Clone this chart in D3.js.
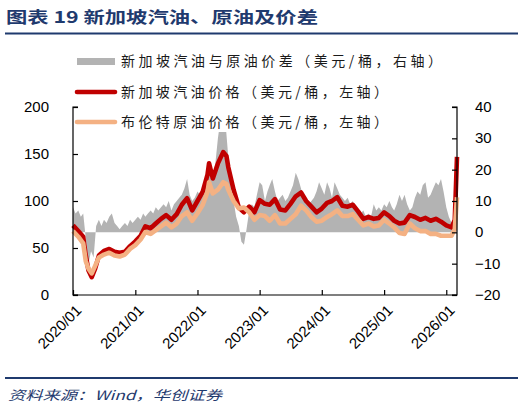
<!DOCTYPE html>
<html><head><meta charset="utf-8">
<script src="https://cdn.jsdelivr.net/npm/d3@7/dist/d3.min.js"></script>
<style>body{margin:0;background:#fff} svg{display:block}</style>
</head><body><svg id="c" width="524" height="413"></svg>
<script>
const titleText = "图表 19 新加坡汽油、原油及价差";
const sourceText = "资料来源：Wind，华创证券";
const legendLabels = ["新加坡汽油与原油价差（美元/桶，右轴）", "新加坡汽油价格（美元/桶，左轴）", "布伦特原油价格（美元/桶，左轴）"];
const leftTicks = [0, 50, 100, 150, 200];
const rightTicks = [-20, -10, 0, 10, 20, 30, 40];
const xTickDates = ["2020-01-01","2021-01-01","2022-01-01","2023-01-01","2024-01-01","2025-01-01","2026-01-01"];
const xTickLabels = ["2020/01","2021/01","2022/01","2023/01","2024/01","2025/01","2026/01"];

const lineDates = ["2020-01-01","2020-02-01","2020-03-01","2020-03-16","2020-04-01","2020-04-20","2020-05-10","2020-06-01","2020-07-01","2020-08-01","2020-09-01","2020-10-01","2020-11-01","2020-12-01",
"2021-01-01","2021-02-01","2021-03-01","2021-04-01","2021-05-01","2021-06-01","2021-07-01","2021-08-01","2021-09-01","2021-10-01","2021-11-01","2021-12-01",
"2022-01-01","2022-02-01","2022-03-01","2022-03-10","2022-04-01","2022-05-01","2022-06-01","2022-06-20","2022-07-01","2022-08-01","2022-09-01","2022-10-01","2022-11-01","2022-12-01",
"2023-01-01","2023-02-01","2023-03-01","2023-04-01","2023-05-01","2023-06-01","2023-07-01","2023-08-01","2023-09-01","2023-10-01","2023-11-01","2023-12-01",
"2024-01-01","2024-02-01","2024-03-01","2024-04-01","2024-05-01","2024-06-01","2024-07-01","2024-08-01","2024-09-01","2024-10-01","2024-11-01","2024-12-01",
"2025-01-01","2025-02-01","2025-03-01","2025-04-01","2025-05-01","2025-06-01","2025-07-01","2025-08-01","2025-09-01","2025-10-01","2025-11-01","2025-12-01",
"2026-01-01","2026-02-01","2026-02-20","2026-03-05"];
const gasoline = [74,68,62,42,26,19,28,42,47,49,46,45,46,52,
57,63,73,71,76,81,85,80,86,96,103,90,
100,110,128,140,124,140,152,148,136,112,93,88,94,88,
101,97,96,102,91,90,97,105,109,100,94,88,
92,98,100,104,95,94,96,89,81,83,81,82,
88,84,79,76,77,85,83,80,82,79,81,78,
74,72,80,147];
const brent = [68,62,55,36,28,23,31,40,43,45,42,41,43,49,
53,59,67,65,69,73,77,72,76,84,88,79,
87,96,110,120,108,112,120,118,112,100,92,93,88,80,
85,84,79,85,76,76,81,86,95,90,83,78,
79,83,86,90,84,84,86,80,74,76,73,74,
80,76,72,66,65,76,71,68,68,65,65,63,
63,63,70,104];

const spreadDates = ["2020-01-01","2020-01-16","2020-02-01","2020-02-16","2020-03-01","2020-03-16","2020-04-01","2020-04-16","2020-05-01","2020-05-16","2020-06-01","2020-06-16","2020-07-01","2020-07-16","2020-08-01","2020-08-16","2020-09-01","2020-09-16","2020-10-01","2020-10-16","2020-11-01","2020-11-16","2020-12-01","2020-12-16",
"2021-01-01","2021-01-16","2021-02-01","2021-02-16","2021-03-01","2021-03-16","2021-04-01","2021-04-16","2021-05-01","2021-05-16","2021-06-01","2021-06-16","2021-07-01","2021-07-16","2021-08-01","2021-08-16","2021-09-01","2021-09-16","2021-10-01","2021-10-16","2021-11-01","2021-11-16","2021-12-01","2021-12-16",
"2022-01-01","2022-01-16","2022-02-01","2022-02-16","2022-03-01","2022-03-16","2022-04-01","2022-04-16","2022-05-01","2022-05-16","2022-06-01","2022-06-16","2022-07-01","2022-07-16","2022-08-01","2022-08-16","2022-09-01","2022-09-16","2022-10-01","2022-10-16","2022-11-01","2022-11-16","2022-12-01","2022-12-16",
"2023-01-01","2023-01-16","2023-02-01","2023-02-16","2023-03-01","2023-03-16","2023-04-01","2023-04-16","2023-05-01","2023-05-16","2023-06-01","2023-06-16","2023-07-01","2023-07-16","2023-08-01","2023-08-16","2023-09-01","2023-09-16","2023-10-01","2023-10-16","2023-11-01","2023-11-16","2023-12-01","2023-12-16",
"2024-01-01","2024-01-16","2024-02-01","2024-02-16","2024-03-01","2024-03-16","2024-04-01","2024-04-16","2024-05-01","2024-05-16","2024-06-01","2024-06-16","2024-07-01","2024-07-16","2024-08-01","2024-08-16","2024-09-01","2024-09-16","2024-10-01","2024-10-16","2024-11-01","2024-11-16","2024-12-01","2024-12-16",
"2025-01-01","2025-01-16","2025-02-01","2025-02-16","2025-03-01","2025-03-16","2025-04-01","2025-04-16","2025-05-01","2025-05-16","2025-06-01","2025-06-16","2025-07-01","2025-07-16","2025-08-01","2025-08-16","2025-09-01","2025-09-16","2025-10-01","2025-10-16","2025-11-01","2025-11-16","2025-12-01","2025-12-16",
"2026-01-01","2026-01-16","2026-02-01","2026-02-16","2026-02-25"];
const spreadValues = [8,6,7,5,6,-2,-10,-6,-8,2,4,2,4,3,5,6,3,2,1,2,3,2,4,3,
4,5,4,6,5,6,7,6,8,7,8,9,8,10,7,9,10,11,12,14,17,12,10,11,
13,12,14,16,21,19,18,22,30,36,32,34,24,14,10,5,2,-3,-4,1,7,9,8,12,
16,15,10,13,15,17,13,10,11,12,10,11,13,15,19,17,14,10,11,9,10,11,13,16,
14,12,16,14,11,16,14,12,11,10,11,9,10,8,7,6,7,5,6,5,9,7,8,7,
9,8,10,8,7,9,12,10,12,9,7,8,11,13,12,15,16,11,12,14,16,15,17,13,
8,5,3,4,8];

const navy = "#1F3A6E";
const cjk = "'Noto Sans CJK SC', 'Noto Sans', sans-serif";
const latin = "'Liberation Sans', Arial, sans-serif";
const svg = d3.select("#c");
const parse = d3.timeParse("%Y-%m-%d");

const L = 73, R = 457, T = 107, B = 295;
const x = d3.scaleTime().domain([parse("2020-01-01"), parse("2026-03-05")]).range([L, R]);
const yL = d3.scaleLinear().domain([0, 200]).range([B, T]);
const yR = d3.scaleLinear().domain([-20, 40]).range([B, T]);

// title
svg.append("text").attr("x", 6).attr("y", 23).attr("font-family", cjk).attr("font-weight", "bold")
  .attr("font-size", 16).attr("fill", navy).attr("textLength", 312).attr("lengthAdjust", "spacingAndGlyphs").text(titleText);
svg.append("line").attr("x1", 5).attr("x2", 518).attr("y1", 33.5).attr("y2", 33.5).attr("stroke", navy).attr("stroke-width", 2);

// footer
svg.append("line").attr("x1", 5).attr("x2", 518).attr("y1", 378).attr("y2", 378).attr("stroke", navy).attr("stroke-width", 2);
svg.append("text").attr("x", 8).attr("y", 400).attr("font-family", cjk).attr("font-style", "italic")
  .attr("font-size", 13).attr("fill", navy).attr("textLength", 214).attr("lengthAdjust", "spacingAndGlyphs").text(sourceText);

// spread area
const spreadData = spreadDates.map((d, i) => ({ d: parse(d), v: spreadValues[i] }));
svg.append("path").datum(spreadData).attr("fill", "#B3B3B3")
  .attr("d", d3.area().x(p => x(p.d)).y0(yR(0)).y1(p => yR(p.v)));

// legend background (covers top of the grey spike)
svg.append("rect").attr("x", 76).attr("y", 48).attr("width", 376).attr("height", 84).attr("fill", "#fff");

const lineData = lineDates.map((d, i) => ({ d: parse(d), g: gasoline[i], b: brent[i] }));
svg.append("path").datum(lineData).attr("fill", "none").attr("stroke", "#C00000").attr("stroke-width", 4.6)
  .attr("stroke-linejoin", "round").attr("d", d3.line().x(p => x(p.d)).y(p => yL(p.g)));
svg.append("path").datum(lineData).attr("fill", "none").attr("stroke", "#F4B183").attr("stroke-width", 4.6)
  .attr("stroke-linejoin", "round").attr("d", d3.line().x(p => x(p.d)).y(p => yL(p.b)));

// axes
const gL = svg.append("g").attr("transform", `translate(${L},0)`)
  .call(d3.axisRight(yL).tickValues(leftTicks).tickSize(5).tickFormat(""));
const gR = svg.append("g").attr("transform", `translate(${R},0)`)
  .call(d3.axisLeft(yR).tickValues(rightTicks).tickSize(5).tickFormat(""));
const gB = svg.append("g").attr("transform", `translate(0,${B})`)
  .call(d3.axisTop(x).tickValues(xTickDates.map(parse)).tickSize(5).tickFormat(""));
[gL, gR, gB].forEach(g => {
  g.select(".domain").attr("stroke", "#000").attr("stroke-width", 1.2);
  g.selectAll(".tick line").attr("stroke", "#000").attr("stroke-width", 1.2);
});
gB.select(".domain").attr("d", `M${L},0H${R}`);
gL.select(".domain").attr("d", `M5,${T}H0V${B}H5`);
gR.select(".domain").attr("d", `M-5,${T}H0V${B}H-5`);

// tick labels
svg.append("g").selectAll("text").data(leftTicks).join("text")
  .attr("x", 49).attr("y", d => yL(d) + 5).attr("text-anchor", "end")
  .attr("font-family", latin).attr("font-size", 15).attr("fill", "#000").text(d => d);
svg.append("g").selectAll("text").data(rightTicks).join("text")
  .attr("x", 475).attr("y", d => yR(d) + 5).attr("text-anchor", "start")
  .attr("font-family", latin).attr("font-size", 15).attr("fill", "#000").text(d => d < 0 ? "\u2212" + Math.abs(d) : d);
svg.append("g").selectAll("text").data(xTickDates).join("text")
  .attr("transform", (d) => `translate(${x(parse(d)) + 2},${B + 9}) rotate(-45)`)
  .attr("text-anchor", "end").attr("dy", "0.7em")
  .attr("font-family", latin).attr("font-size", 15).attr("fill", "#000").text((d, i) => xTickLabels[i]);

// legend
const lg = svg.append("g");
lg.append("rect").attr("x", 77).attr("y", 58).attr("width", 38).attr("height", 7).attr("fill", "#B3B3B3");
lg.append("line").attr("x1", 77).attr("x2", 115).attr("y1", 92).attr("y2", 92).attr("stroke", "#C00000").attr("stroke-width", 4.6).attr("stroke-linecap", "round");
lg.append("line").attr("x1", 77).attr("x2", 115).attr("y1", 122).attr("y2", 122).attr("stroke", "#F4B183").attr("stroke-width", 4.6).attr("stroke-linecap", "round");
const lens = [321, 267, 267];
[66, 97, 127].forEach((yy, i) => {
  lg.append("text").attr("x", 121).attr("y", yy).attr("font-family", cjk).attr("font-size", 14)
    .attr("fill", "#1a1a1a").attr("textLength", lens[i]).attr("lengthAdjust", "spacing").text(legendLabels[i]);
});
</script></body></html>
